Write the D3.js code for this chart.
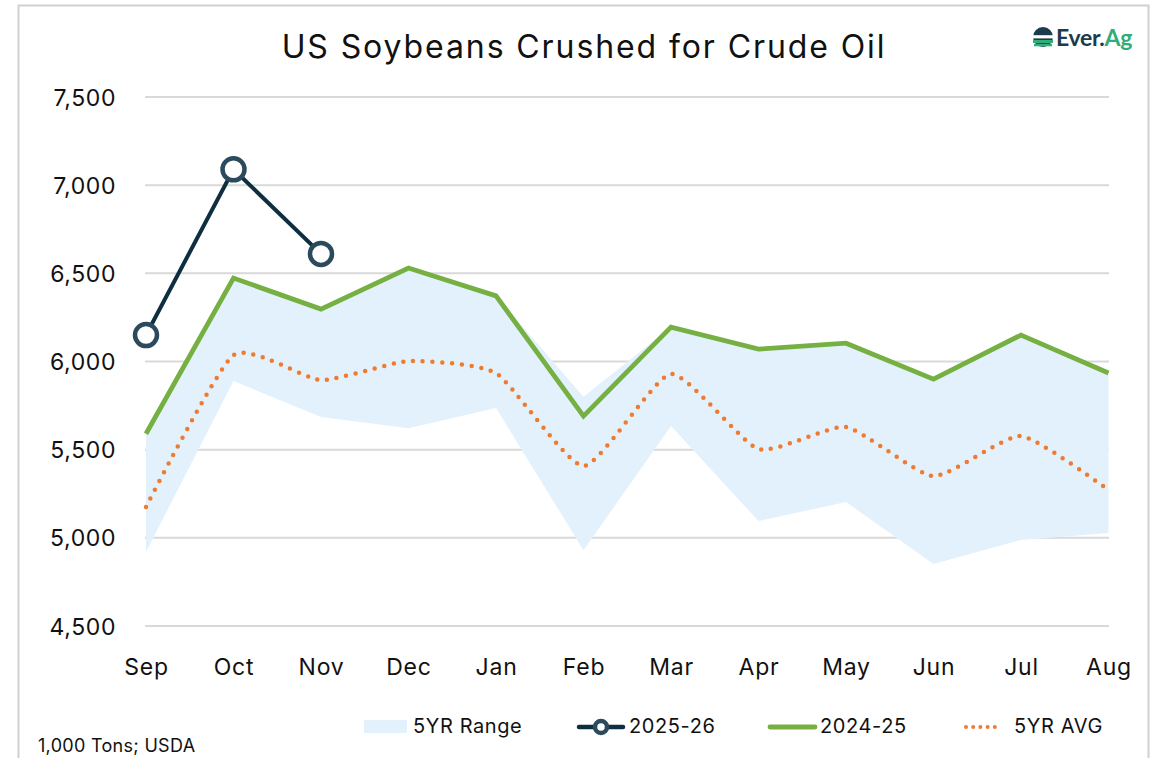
<!DOCTYPE html>
<html><head><meta charset="utf-8">
<script src="https://cdn.jsdelivr.net/npm/d3@7"></script>
<style>body{margin:0;background:#fff;}svg{display:block;font-family:Inter,'Open Sans',sans-serif;}</style>
</head><body>
<svg id="c" width="1160" height="758"></svg>
<script>
const months = ["Sep","Oct","Nov","Dec","Jan","Feb","Mar","Apr","May","Jun","Jul","Aug"];
const s2526 = [6150, 7090, 6610];
const s2425 = [5590, 6473, 6297, 6530, 6372, 5690, 6195, 6070, 6104, 5900, 6150, 5935];
const avg5 = [5175, 6036, 5895, 6002, 5934, 5407, 5929, 5503, 5628, 5350, 5577, 5271];
const rangeHi = [5590, 6473, 6297, 6530, 6372, 5800, 6195, 6070, 6104, 5900, 6150, 5935];
const rangeLo = [4920, 5889, 5685, 5622, 5736, 4930, 5634, 5095, 5203, 4851, 4988, 5027];
const yTicks = [4500, 5000, 5500, 6000, 6500, 7000, 7500];
const title = "US Soybeans Crushed for Crude Oil";
const note = "1,000 Tons; USDA";

const svg = d3.select("#c");
const navy = "#0f2f40", marker = "#2b4a5b", green = "#76b043", orange = "#ee7b2f", band = "#e3f1fd";
const FONT = "Inter,'Open Sans',sans-serif";

svg.append("rect").attr("x",18.5).attr("y",5.5).attr("width",1130).attr("height",780)
  .attr("fill","#fff").attr("stroke","#d0d0d0").attr("stroke-width",2);

const x = d3.scalePoint().domain(months).range([146, 1108.5]);
const y = d3.scaleLinear().domain([4500, 7500]).range([626, 97]);

// gridlines
svg.append("g").selectAll("line").data(yTicks).join("line")
  .attr("x1",145).attr("x2",1109).attr("y1",d=>y(d)).attr("y2",d=>y(d))
  .attr("stroke","#d9d9d9").attr("stroke-width",2);

// y axis labels
const yAxis = d3.axisLeft(y).tickValues(yTicks).tickFormat(d3.format(",")).tickSize(0).tickPadding(0);
const ya = svg.append("g").attr("transform","translate(116,0)").call(yAxis);
ya.select(".domain").remove();
ya.selectAll("text").attr("font-size",23).attr("letter-spacing",0.6).attr("fill","#111").attr("font-family",FONT).attr("dy","0.35em");

// x axis labels
const xAxis = d3.axisBottom(x).tickSize(0).tickPadding(0);
const xa = svg.append("g").attr("transform","translate(0,667)").call(xAxis);
xa.select(".domain").remove();
xa.selectAll("text").attr("font-size",23).attr("letter-spacing",0.8).attr("fill","#111").attr("font-family",FONT).attr("dy","0.35em");

// band
const area = d3.area().x((d,i)=>x(months[i])).y0((d,i)=>y(rangeLo[i])).y1(d=>y(d));
svg.append("path").datum(rangeHi).attr("d",area).attr("fill",band);

// 5yr avg dotted smooth
const avgLine = d3.line().x((d,i)=>x(months[i])).y(d=>y(d)).curve(d3.curveCardinal.tension(0.45));
svg.append("path").datum(avg5).attr("d",avgLine).attr("fill","none").attr("stroke",orange)
  .attr("stroke-width",4.5).attr("stroke-linecap","round").attr("stroke-dasharray","0 9.8");

// 2024-25
const line = d3.line().x((d,i)=>x(months[i])).y(d=>y(d));
svg.append("path").datum(s2425).attr("d",line).attr("fill","none").attr("stroke",green)
  .attr("stroke-width",4.8).attr("stroke-linejoin","miter");

// 2025-26
svg.append("path").datum(s2526).attr("d",line).attr("fill","none").attr("stroke",navy)
  .attr("stroke-width",4);
svg.append("g").selectAll("circle").data(s2526).join("circle")
  .attr("cx",(d,i)=>x(months[i])).attr("cy",d=>y(d)).attr("r",11)
  .attr("fill","#fff").attr("stroke",marker).attr("stroke-width",4.5);

// title
svg.append("text").attr("x",584).attr("y",58).attr("text-anchor","middle")
  .attr("font-size",32).attr("letter-spacing",1.9).attr("fill","#111").text(title);

// logo
const lg = svg.append("g").attr("transform","translate(1043,37)");
lg.append("circle").attr("r",10).attr("fill","#1d3b4c");
lg.append("rect").attr("x",-10).attr("y",-1.8).attr("width",20).attr("height",3.2).attr("fill","#fff");
lg.append("rect").attr("x",-10).attr("y",3).attr("width",20).attr("height",3).attr("fill","#2fae7a");
lg.append("rect").attr("x",-9).attr("y",6.8).attr("width",18).attr("height",2.5).attr("fill","#2fae7a");
const lt = svg.append("text").attr("x",1056).attr("y",45.5).attr("font-size",23).attr("font-weight",700)
  .attr("font-family","Lato,Inter,sans-serif").attr("letter-spacing","-0.3");
lt.append("tspan").attr("fill","#1d3b4c").text("Ever.");
lt.append("tspan").attr("fill","#2fae7a").text("Ag");

// legend
const L = svg.append("g").attr("font-size",20).attr("letter-spacing",0.6).attr("fill","#111");
L.append("rect").attr("x",364).attr("y",720).attr("width",43).attr("height",13).attr("fill",band);
L.append("text").attr("x",413).attr("y",733).text("5YR Range");
L.append("line").attr("x1",579).attr("x2",623).attr("y1",727).attr("y2",727).attr("stroke",navy).attr("stroke-width",4.5).attr("stroke-linecap","round");
L.append("circle").attr("cx",601).attr("cy",727).attr("r",6).attr("fill","#fff").attr("stroke",marker).attr("stroke-width",4.5);
L.append("text").attr("x",629).attr("y",733).text("2025-26");
L.append("line").attr("x1",770).attr("x2",815).attr("y1",727).attr("y2",727).attr("stroke",green).attr("stroke-width",4.8).attr("stroke-linecap","round");
L.append("text").attr("x",820).attr("y",733).text("2024-25");
L.append("line").attr("x1",966).attr("x2",995).attr("y1",727).attr("y2",727).attr("stroke",orange).attr("stroke-width",4).attr("stroke-linecap","round").attr("stroke-dasharray","0 7.2");
L.append("text").attr("x",1014).attr("y",733).text("5YR AVG");

svg.append("text").attr("x",38).attr("y",752).attr("font-size",18).attr("letter-spacing",0.3).attr("fill","#111").text(note);
</script>
</body></html>
